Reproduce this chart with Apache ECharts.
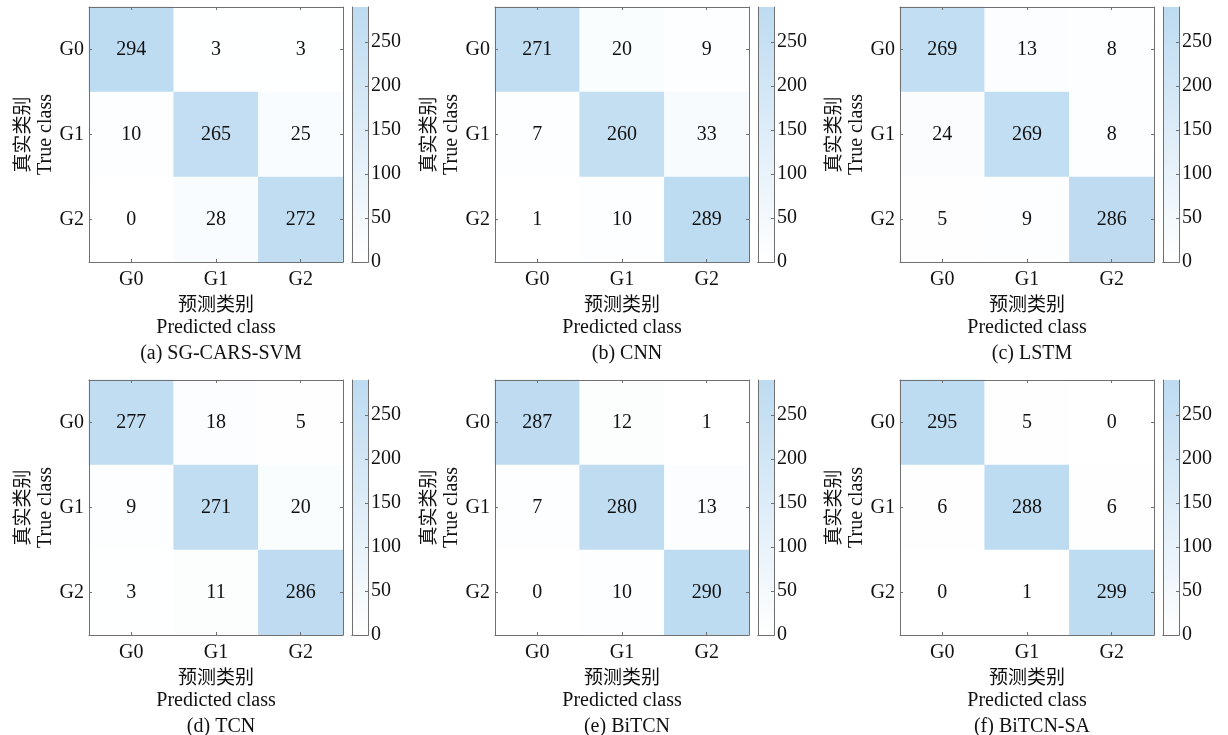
<!DOCTYPE html>
<html>
<head>
<meta charset="utf-8">
<script src="https://cdn.jsdelivr.net/npm/echarts@6/dist/echarts.min.js"></script>
<style>html,body{margin:0;padding:0;background:#fff}#chart{width:1228px;height:735px}</style>
</head>
<body>
<div id="chart"></div>
<script>
// ---- data ----
const categories = ['G0', 'G1', 'G2'];
const panelTitles = ['(a) SG-CARS-SVM', '(b) CNN', '(c) LSTM', '(d) TCN', '(e) BiTCN', '(f) BiTCN-SA'];
// rows = true class G0..G2, columns = predicted class G0..G2
const svmMatrix    = [[294, 3, 3], [10, 265, 25], [0, 28, 272]];
const cnnMatrix    = [[271, 20, 9], [7, 260, 33], [1, 10, 289]];
const lstmMatrix   = [[269, 13, 8], [24, 269, 8], [5, 9, 286]];
const tcnMatrix    = [[277, 18, 5], [9, 271, 20], [3, 11, 286]];
const bitcnMatrix  = [[287, 12, 1], [7, 280, 13], [0, 10, 290]];
const bitcnSaMatrix = [[295, 5, 0], [6, 288, 6], [0, 1, 299]];
const colorbarMin = 0;
const colorbarMax = 290;
const colorbarInterval = 50;
const xAxisTitleCn = '预测类别';
const xAxisTitleEn = 'Predicted class';
const yAxisTitleCn = '真实类别';
const yAxisTitleEn = 'True class';

const matrices = [svmMatrix, cnnMatrix, lstmMatrix, tcnMatrix, bitcnMatrix, bitcnSaMatrix];

// ---- style / layout ----
const LOW = '#ffffff', HIGH = '#bddbf1';
const AXIS_COLOR = '#707070';
const TEXT_COLOR = '#111111';
const SERIF = 'Liberation Serif, Times New Roman, serif';
const CJK = 'Noto Sans CJK SC';
const FS = 20;
const colLeft = [89, 495, 900];
const rowTop = [7, 380];
const W = 254, H = 255;
const CB_OFF = 263, CB_W = 16;

const rich = {
  cn: { fontFamily: CJK, fontSize: 19, lineHeight: 24, color: TEXT_COLOR },
  en: { fontFamily: SERIF, fontSize: FS, lineHeight: 24, color: TEXT_COLOR }
};

const grid = [], xAxis = [], yAxis = [], series = [], visualMap = [], title = [];

matrices.forEach((m, i) => {
  const left = colLeft[i % 3], top = rowTop[Math.floor(i / 3)];
  grid.push({ left: left, top: top, width: W, height: H });
  grid.push({ left: left + CB_OFF, top: top, width: CB_W, height: H });
  const g = 2 * i;
  const lineStyle = { color: AXIS_COLOR, width: 1 };
  const tickIn = { show: true, inside: true, length: 3, alignWithLabel: true, lineStyle: lineStyle };
  // heatmap axes
  xAxis.push({
    type: 'category', data: categories, gridIndex: g, position: 'bottom', z: 10,
    axisLine: { show: true, lineStyle }, axisTick: tickIn,
    axisLabel: { fontFamily: SERIF, fontSize: FS, color: TEXT_COLOR, margin: 8 },
    splitArea: { show: false }, splitLine: { show: false },
    name: '{cn|' + xAxisTitleCn + '}\n{en|' + xAxisTitleEn + '}',
    nameLocation: 'middle', nameGap: 30,
    nameTextStyle: { rich: rich, align: 'center' }
  });
  xAxis.push({
    type: 'category', data: categories, gridIndex: g, position: 'top', z: 10,
    axisLine: { show: true, lineStyle }, axisTick: tickIn,
    axisLabel: { show: false }, splitLine: { show: false }
  });
  // colorbar x axes (frame only)
  xAxis.push({
    type: 'category', data: [''], gridIndex: g + 1, position: 'bottom', z: 10,
    axisLine: { show: true, lineStyle }, axisTick: { show: false }, axisLabel: { show: false }
  });
  xAxis.push({
    type: 'category', data: [''], gridIndex: g + 1, position: 'top', z: 10,
    axisLine: { show: true, lineStyle }, axisTick: { show: false }, axisLabel: { show: false }
  });
  yAxis.push({
    type: 'category', data: categories, gridIndex: g, position: 'left', inverse: true, z: 10,
    axisLine: { show: true, lineStyle }, axisTick: tickIn,
    axisLabel: { fontFamily: SERIF, fontSize: FS, color: TEXT_COLOR, margin: 5 },
    splitArea: { show: false }, splitLine: { show: false },
    name: '{cn|' + yAxisTitleCn + '}\n{en|' + yAxisTitleEn + '}',
    nameLocation: 'middle', nameRotate: 90, nameGap: 28,
    nameTextStyle: { rich: rich, align: 'center' }
  });
  yAxis.push({
    type: 'category', data: categories, gridIndex: g, position: 'right', inverse: true, z: 10,
    axisLine: { show: true, lineStyle }, axisTick: tickIn,
    axisLabel: { show: false }, splitLine: { show: false }
  });
  yAxis.push({
    type: 'value', gridIndex: g + 1, position: 'left', min: colorbarMin, max: colorbarMax,
    interval: colorbarInterval, z: 10,
    axisLine: { show: true, lineStyle }, axisTick: { show: false }, axisLabel: { show: false },
    splitLine: { show: false }
  });
  yAxis.push({
    type: 'value', gridIndex: g + 1, position: 'right', min: colorbarMin, max: colorbarMax,
    interval: colorbarInterval, z: 10,
    axisLine: { show: true, lineStyle },
    axisTick: { show: true, inside: true, length: 3, lineStyle },
    axisLabel: { fontFamily: SERIF, fontSize: FS, color: TEXT_COLOR, margin: 3, showMaxLabel: false },
    splitLine: { show: false }
  });
  const data = [];
  m.forEach((row, r) => row.forEach((v, c) => data.push([c, r, v])));
  series.push({
    type: 'heatmap', xAxisIndex: 4 * i, yAxisIndex: 4 * i, data: data,
    label: { show: true, fontFamily: SERIF, fontSize: FS, color: TEXT_COLOR },
    emphasis: { disabled: true }, itemStyle: { borderWidth: 0 }
  });
  series.push({
    type: 'bar', xAxisIndex: 4 * i + 2, yAxisIndex: 4 * i + 3, data: [colorbarMax],
    barWidth: '100%', silent: true,
    itemStyle: {
      color: { type: 'linear', x: 0, y: 0, x2: 0, y2: 1,
        colorStops: [{ offset: 0, color: HIGH }, { offset: 1, color: LOW }] }
    }
  });
  visualMap.push({
    show: false, type: 'continuous', seriesIndex: 2 * i, min: colorbarMin, max: colorbarMax,
    inRange: { color: [LOW, HIGH] }, outOfRange: { color: HIGH }
  });
  title.push({
    text: panelTitles[i], left: left + W / 2, top: top + H + 77, textAlign: 'center',
    textStyle: { fontFamily: SERIF, fontSize: FS, fontWeight: 'normal', color: TEXT_COLOR }
  });
});

const chart = echarts.init(document.getElementById('chart'), null, { renderer: 'canvas' });
chart.setOption({
  animation: false, backgroundColor: '#ffffff',
  title, grid, xAxis, yAxis, series, visualMap
});
</script>
</body>
</html>
